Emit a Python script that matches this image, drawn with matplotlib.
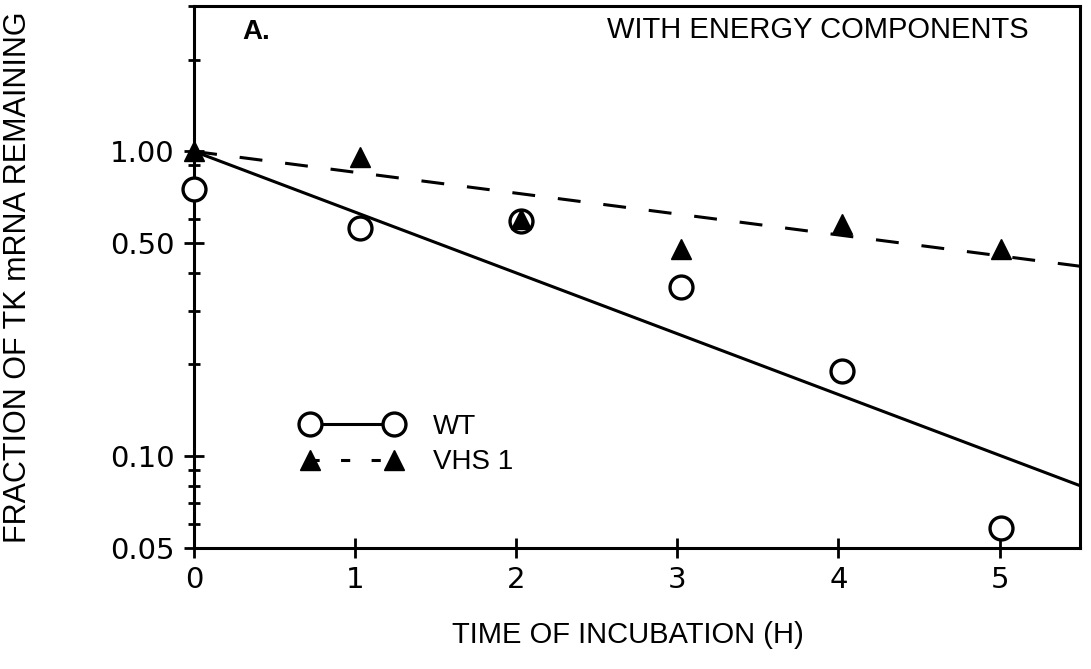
import matplotlib
matplotlib.use("Agg")
import matplotlib.pyplot as plt
from matplotlib.ticker import FixedLocator, LogLocator, NullFormatter

plt.rcParams['font.family'] = ['Liberation Sans', 'DejaVu Sans']

# measured points
time_h = [0, 1.03, 2.03, 3.02, 4.02, 5.01]
wt_frac = [0.75, 0.56, 0.59, 0.36, 0.19, 0.058]
vhs_frac = [1.0, 0.96, 0.60, 0.48, 0.58, 0.48]

# fitted decay lines (end points)
fit_x = [0, 5.5]
wt_fit = [1.0, 0.08]
vhs_fit = [1.0, 0.42]

y_ticks = [0.05, 0.10, 0.50, 1.00]
y_tick_labels = ["0.05", "0.10", "0.50", "1.00"]
x_ticks = [0, 1, 2, 3, 4, 5]

fig = plt.figure(figsize=(10.91, 6.69), dpi=100)
ax = fig.add_axes([0.178, 0.181, 0.812, 0.81])

ax.plot(fit_x, wt_fit, color="black", lw=2.2, solid_capstyle="butt")
ax.plot(fit_x, vhs_fit, color="black", lw=2.2, dashes=(7.5, 7.5))

ax.plot(time_h, wt_frac, "o", ms=16.5, mfc="white", mec="black", mew=2.4,
        clip_on=False, zorder=4)
ax.plot(time_h, vhs_frac, "^", ms=14, color="black", clip_on=False, zorder=5)

# legend handles
h_wt, = ax.plot([], [], "o-", color="black", ms=16.5, mfc="white", mew=2.4, lw=2.2)
h_vhs, = ax.plot([], [], "^", ls=(0, (3, 7)), color="black", ms=14, lw=2.2)
ax.legend([h_wt, h_vhs], ["WT", "VHS 1"], loc="center left",
          bbox_to_anchor=(0.106, 0.191), frameon=False, numpoints=2,
          handlelength=3.6, fontsize=20, labelspacing=0.35, handletextpad=1.1,
          borderpad=0)

ax.set_yscale("log")
ax.set_ylim(0.05, 3.0)
ax.set_xlim(0, 5.5)
ax.yaxis.set_major_locator(FixedLocator(y_ticks))
ax.set_yticklabels(y_tick_labels)
ax.yaxis.set_minor_locator(LogLocator(base=10, subs=range(2, 10)))
ax.yaxis.set_minor_formatter(NullFormatter())
ax.set_xticks(x_ticks)

for s in ax.spines.values():
    s.set_linewidth(2.2)
ax.tick_params(axis="both", which="major", direction="inout", length=14,
               width=2, labelsize=21, top=False, right=False)
ax.tick_params(axis="y", which="minor", direction="inout", length=9, width=2)
ax.tick_params(axis="y", which="major", pad=7)
ax.tick_params(axis="x", which="major", pad=6)
for lab in ax.get_xticklabels() + ax.get_yticklabels():
    lab.set_family("DejaVu Sans")

ax.set_ylabel("FRACTION OF TK mRNA REMAINING", fontsize=22)
ax.yaxis.set_label_coords(-0.182, 0.5)
ax.set_xlabel("TIME OF INCUBATION (H)", fontsize=21,
              family=['Liberation Sans Narrow', 'Liberation Sans'])
ax.xaxis.set_label_coords(0.49, -0.135)

ax.text(0.30, 2.46, "A.", fontsize=20, fontweight="bold", va="center")
ax.text(5.18, 2.50, "WITH ENERGY COMPONENTS", fontsize=21, ha="right",
        va="center")

fig.savefig("out.png", dpi=100)
